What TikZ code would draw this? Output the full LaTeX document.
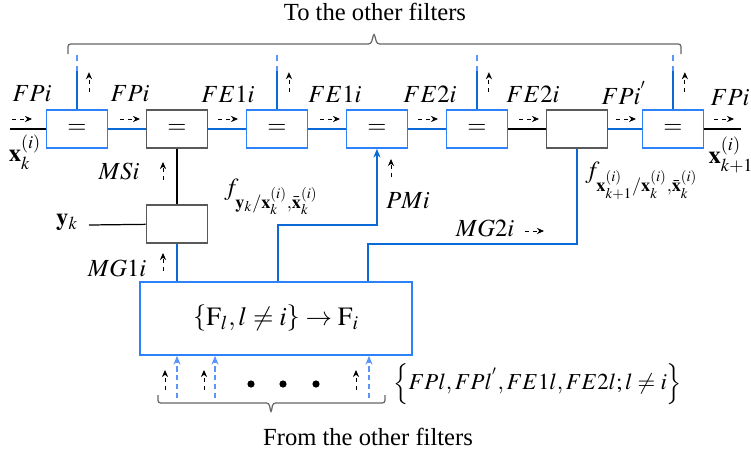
\documentclass[tikz,border=0pt]{standalone}
\usepackage{mathptmx}
\usepackage{fontspec}
\setmainfont{Liberation Serif}
\usetikzlibrary{arrows, arrows.meta}
\definecolor{boxblue}{RGB}{45,130,250}
\definecolor{lineblue}{RGB}{10,105,215}
\definecolor{dashblue}{RGB}{90,150,250}
\tikzstyle{eqbox} = [rectangle, minimum width=1.22cm, minimum height=0.76cm, draw=boxblue, line width=0.9pt]
\tikzstyle{blkbox} = [rectangle, minimum width=1.22cm, minimum height=0.76cm, draw=black!65, line width=0.9pt]
\tikzstyle{bigbox} = [rectangle, minimum width=5.44cm, minimum height=1.46cm, draw=boxblue, line width=0.9pt]
\tikzstyle{bline} = [draw=lineblue, line width=0.8pt]
\tikzstyle{bthick} = [draw=lineblue, line width=1.4pt]
\tikzstyle{kline} = [draw=black, line width=0.7pt]
\tikzstyle{kthick} = [draw=black, line width=1.4pt]
\tikzstyle{msg} = [dash pattern=on 2.5pt off 2pt, line width=0.5pt, -{Stealth[length=4pt,width=3.5pt]}]
\tikzstyle{bdash} = [draw=dashblue, dash pattern=on 3pt off 2pt, line width=0.8pt, -{Stealth[length=5pt,width=4pt]}]
\tikzstyle{brace} = [draw=black!60, line width=0.7pt, rounded corners=1.5pt]
\tikzstyle{lab} = [inner sep=0pt]

\begin{document}
\begin{tikzpicture}[x=0.02cm, y=-0.02cm, node distance=2cm, font=\fontsize{14}{17}\selectfont]
\useasboundingbox (0,0) rectangle (751,453);

% chain of the filter
\node (eq1) [eqbox] at (77,129) {$=$};
\node (eq2) [blkbox, right of=eq1] {$=$};
\node (eq3) [eqbox, right of=eq2] {$=$};
\node (eq4) [eqbox, right of=eq3] {$=$};
\node (eq5) [eqbox, right of=eq4] {$=$};
\node (pred) [blkbox, right of=eq5] {};
\node (eq6) [eqbox, right of=pred, xshift=-0.08cm] {$=$};
\node (meas) [blkbox, below of=eq2, yshift=0.1cm] {};
\node (fusion) [bigbox] at (276,318.5) {\fontsize{15}{18}\selectfont$\left\{\mathrm{F}_l, l\neq i\right\}\rightarrow\mathrm{F}_i$};

\coordinate (in) at (10,129);
\coordinate (out) at (741,129);
\coordinate (yin) at (89,225);
\coordinate (j1) at (278,225);
\coordinate (j2) at (368,244);

\draw [kline] (in) -- (eq1);
\draw [bline] (eq1) -- (eq2);
\draw [bline] (eq2) -- (eq3);
\draw [bline] (eq3) -- (eq4);
\draw [bline] (eq4) -- (eq5);
\draw [kthick] (eq5) -- (pred);
\draw [bthick] (pred) -- (eq6);
\draw [kline] (eq6) -- (out);
\draw [kthick] (eq2) -- (meas);
\draw [kline] (yin) -- (meas);
\draw [bline] (meas) -- (meas.south |- fusion.north);
\draw [bthick, -{Stealth[length=5pt,width=4pt]}] (fusion.north -| j1) -- (j1) -| (eq4.south);
\draw [bthick] (fusion.north -| j2) -- (j2) -| (pred.south);

% to the other filters
\foreach \n in {eq1,eq3,eq5,eq6} {
  \draw [bline] (\n.north) -- ++(0,-38) coordinate (\n-top);
  \draw [bline, draw=dashblue, dashed] (\n-top) -- ++(0,-20);
  \draw [msg] (\n.north) ++(12,-17) -- ++(0,-20);
}

% from the other filters
\foreach \x in {177,215,369}
  \draw [bdash] (\x,398) -- (\x,0 |- fusion.south);
\foreach \x in {165,204,356}
  \draw [msg] (\x,390) -- ++(0,-20);
\foreach \x in {251,283,316}
  \fill (\x,384) circle (3.6);

% message arrows
\foreach \x in {12,120,218,320,418,519,616,714}
  \draw [msg] (\x,119) -- ++(20,0);
\draw [msg] (163,180) -- ++(0,-18);
\draw [msg] (163,271) -- ++(0,-18);
\draw [msg] (391,177) -- ++(0,-18);
\draw [msg] (525,231) -- ++(19,0);

% braces
\draw [brace] (68,54) -- (68,44) -- (371,44) -- (374,33) -- (377,44) -- (681,44) -- (681,54);
\draw [brace] (158,395) -- (158,403) -- (269,403) -- (271,413) -- (273,403) -- (385,403) -- (385,395);

% labels
\node (lfp1) [lab] at (32,94) {$FPi$};
\node (lfp2) [lab] at (130,94) {$FPi$};
\node (lfe1) [lab] at (228,94) {$FE1i$};
\node (lfe2) [lab] at (335,94) {$FE1i$};
\node (lfe3) [lab] at (430,94) {$FE2i$};
\node (lfe4) [lab] at (533,94) {$FE2i$};
\node (lfp3) [lab] at (624,93) {$FPi^{'}$};
\node (lfp4) [lab] at (730,98) {$FPi$};
\node (lxk) [lab] at (25,152) {$\mathbf{x}_k^{(i)}$};
\node (lxk1) [lab] at (731,155) {$\mathbf{x}_{k+1}^{(i)}$};
\node (lms) [lab] at (119,171) {$MSi$};
\node (lyk) [lab] at (67,222) {$\mathbf{y}_k$};
\node (lmg1) [lab] at (117,268) {$MG1i$};
\node (lpm) [lab] at (408,201) {$PMi$};
\node (lmg2) [lab] at (485,228) {$MG2i$};
\node (lfy) [lab, anchor=west] at (224,197) {$f_{\mathbf{y}_k/\mathbf{x}_k^{(i)},\bar{\mathbf{x}}_k^{(i)}}$};
\node (lfx) [lab, anchor=west] at (585,181) {$f_{\mathbf{x}_{k+1}^{(i)}/\mathbf{x}_k^{(i)},\bar{\mathbf{x}}_k^{(i)}}$};
\node (lset) [lab, anchor=west, font=\fontsize{13}{16}\selectfont] at (393,384) {$\left\{FPl, FPl^{'}, FE1l, FE2l; l\neq i\right\}$};
\node (lto) [lab] at (375,12) {To the other filters};
\node (lfrom) [lab] at (368,437) {From the other filters};
\end{tikzpicture}
\end{document}
